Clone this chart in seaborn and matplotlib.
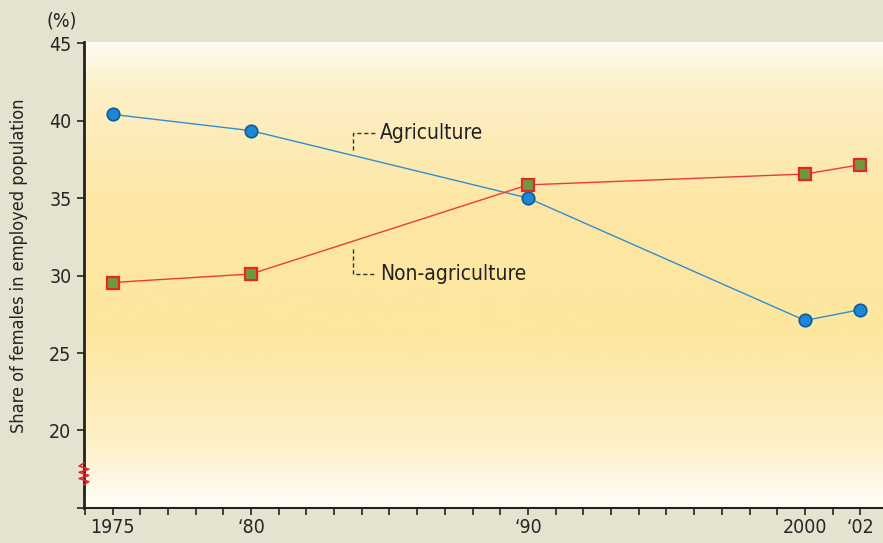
import numpy as np
import pandas as pd
import matplotlib
matplotlib.use("Agg")
import matplotlib.pyplot as plt
from matplotlib.colors import LinearSegmentedColormap
import matplotlib.transforms as mtransforms
import seaborn as sns

# Data
years = [1975, 1980, 1990, 2000, 2002]
agriculture = [40.4, 39.35, 35.0, 27.1, 27.8]
non_agriculture = [29.55, 30.1, 35.85, 36.55, 37.15]
tick_years = [1975, 1980, 1990, 2000, 2002]
tick_labels = ["1975", "\u201880", "\u201890", "2000", "\u201802"]
y_ticks = [15, 20, 25, 30, 35, 40, 45]
y_labels = ["", "20", "25", "30", "35", "40", "45"]

df = pd.DataFrame({"year": years, "Agriculture": agriculture,
                   "Non-agriculture": non_agriculture})

sns.set_style("ticks")
plt.rcParams["font.family"] = ["DejaVu Sans"]
plt.rcParams["font.stretch"] = "condensed"

fig = plt.figure(figsize=(8.83, 5.43), dpi=100, facecolor="#e6e2d0")
ax = fig.add_axes([0.0951, 0.0645, 0.905, 0.859])
ax.set_facecolor("#fde9a6")

x0, x1 = 1973.97, 2002.82
y0, y1 = 15, 45.1

# vertical gradient background: white top -> yellow -> pale bottom
cmap = LinearSegmentedColormap.from_list(
    "bg", [(0.0, "#fffcf2"), (0.1, "#fdf0c8"), (0.35, "#fde7a4"),
           (0.62, "#fde69e"), (0.85, "#fdf0c6"), (1.0, "#fffdf6")])
grad = np.linspace(1, 0, 256).reshape(-1, 1)
ax.imshow(grad, cmap=cmap, aspect="auto", extent=[x0, x1, y0, y1],
          origin="lower", zorder=0)

sns.lineplot(data=df, x="year", y="Agriculture", ax=ax, color="#2f8fd0",
             linewidth=1.0, marker="o", markersize=9,
             markerfacecolor="#1f86d6", markeredgecolor="#0b5c9e",
             markeredgewidth=1.2, zorder=3)
sns.lineplot(data=df, x="year", y="Non-agriculture", ax=ax, color="#ec3a3a",
             linewidth=1.0, marker="s", markersize=8.5,
             markerfacecolor="#6f9a3c", markeredgecolor="#e42626",
             markeredgewidth=1.6, zorder=3)

ax.set_xlim(x0, x1)
ax.set_ylim(y0, y1)

ax.set_xticks(np.arange(1974, 2003), minor=True)
ax.set_xticks(tick_years)
ax.set_xticklabels(tick_labels)
ax.tick_params(axis="x", which="both", direction="out", length=5,
               width=1.2, color="#222222", pad=2, labelsize=14)
ax.set_yticks(y_ticks)
ax.set_yticklabels(y_labels)
ax.tick_params(axis="y", direction="out", length=5, width=1.2,
               color="#222222", labelsize=14, pad=4)

for s in ["top", "right"]:
    ax.spines[s].set_visible(False)
ax.spines["left"].set_linewidth(2.0)
ax.spines["left"].set_color("#222222")
ax.spines["bottom"].set_linewidth(1.5)
ax.spines["bottom"].set_color("#222222")

ax.set_xlabel("")
ax.set_ylabel("Share of females in employed population", fontsize=13,
              color="#222222")
ax.yaxis.set_label_coords(-0.07, 0.52)
fig.text(0.07, 0.962, "(%)", fontsize=14, color="#222222", ha="center",
         va="center")

# axis break zigzag
trans = mtransforms.blended_transform_factory(ax.transAxes, ax.transData)
zx = np.array([0, -1, 1, -1, 1, -1, 1, 0]) * 0.006
zy = np.linspace(17.9, 16.5, len(zx))
ax.plot(zx, zy, color="#e8262c", lw=1.2, transform=trans, clip_on=False,
        zorder=5)

# leader labels
ax.plot([1983.7, 1983.7, 1984.5], [38.1, 39.2, 39.2], ls=(0, (3, 2)),
        lw=1.0, color="#333333", zorder=4)
ax.text(1984.65, 39.2, "Agriculture", fontsize=15, va="center",
        color="#222222")
ax.plot([1983.7, 1983.7, 1984.5], [31.7, 30.1, 30.1], ls=(0, (3, 2)),
        lw=1.0, color="#333333", zorder=4)
ax.text(1984.65, 30.1, "Non-agriculture", fontsize=15, va="center",
        color="#222222")

fig.savefig("out.png", dpi=100, facecolor=fig.get_facecolor())
